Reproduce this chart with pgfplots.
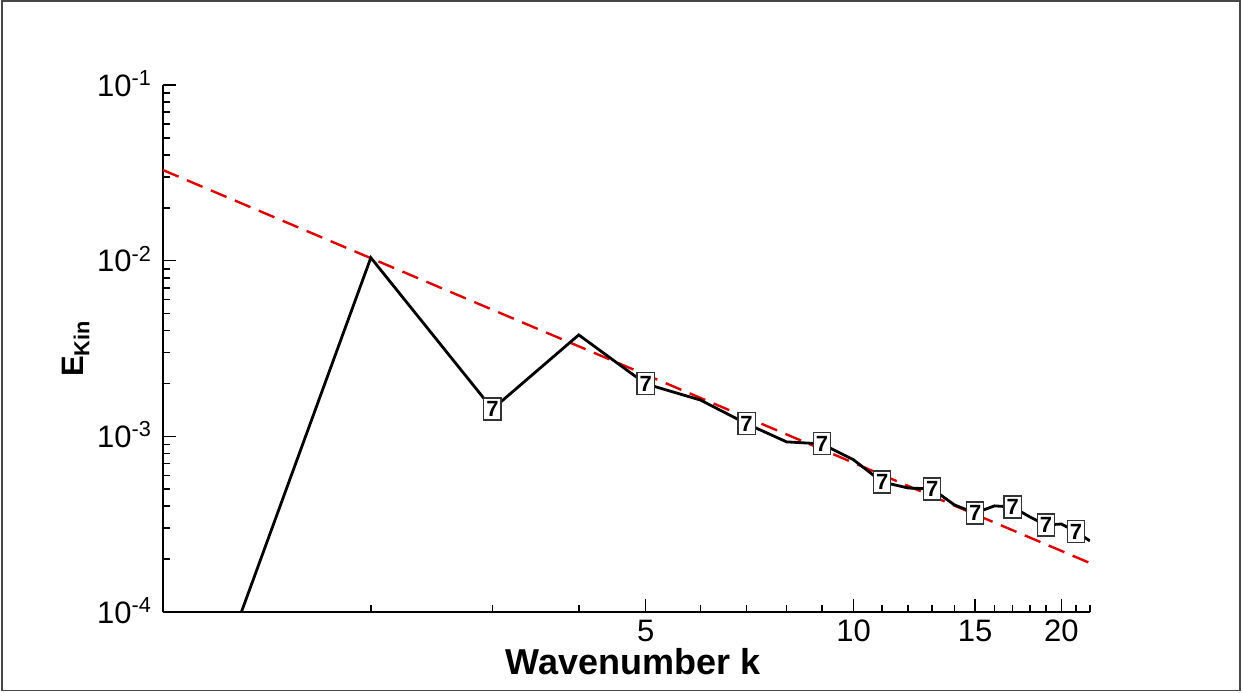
\documentclass[border=0pt]{standalone}
\usepackage{fontspec}
\setmainfont{Liberation Sans}
\usepackage{pgfplots}
\pgfplotsset{compat=1.18}
\definecolor{fitred}{RGB}{222,0,0}
\begin{document}
\begin{tikzpicture}
\useasboundingbox (0pt,0pt) rectangle (621pt,346pt);
\draw[black!72, line width=0.9pt] (1pt,0.8pt) rectangle (620pt,345.4pt);
\begin{axis}[
  at={(81.5pt,40pt)}, anchor=south west,
  scale only axis, width=463.5pt, height=263.5pt,
  xmode=log, ymode=log,
  xmin=1, xmax=22, ymin=1e-4, ymax=1e-1,
  axis lines=left,
  axis line style={-, line width=1.3pt},
  tick align=inside,
  major tick length=6.5pt, minor tick length=3.5pt,
  every tick/.style={black, line width=0.8pt},
  xtick={5,10,15,20}, xticklabels={5,10,15,20},
  minor xtick={2,3,4,6,7,8,9,11,12,13,14,16,17,18,19,21,22},
  ytick={1e-4,1e-3,1e-2,1e-1},
  yticklabels={10\textsuperscript{-4},10\textsuperscript{-3},10\textsuperscript{-2},10\textsuperscript{-1}},
  minor ytick={2e-4,3e-4,4e-4,5e-4,6e-4,7e-4,8e-4,9e-4,
               2e-3,3e-3,4e-3,5e-3,6e-3,7e-3,8e-3,9e-3,
               2e-2,3e-2,4e-2,5e-2,6e-2,7e-2,8e-2,9e-2},
  /pgf/number format/assume math mode=true,
  ticklabel style={font=\fontsize{15.5}{16}\selectfont},
  yticklabel style={anchor=base east, yshift=-5.5pt, xshift=-2pt},
  xticklabel style={yshift=-0.5pt},
  xlabel={Wavenumber k},
  ylabel={E\textsubscript{Kin}},
  xlabel style={font=\fontsize{18}{18}\selectfont\bfseries,
                at={(axis description cs:0.507,-0.094)}, anchor=center},
  ylabel style={font=\fontsize{15.5}{16}\selectfont\bfseries,
                at={(axis description cs:-0.094,0.5)}, anchor=center},
  clip=true,
]
% -5/3 reference slope
\addplot[fitred, line width=1.2pt, dash pattern=on 8.5pt off 4.5pt]
  coordinates {(1,0.0328) (22,1.90e-4)};
% kinetic energy spectrum
\addplot[black, line width=1.4pt]
  coordinates {
  (1,6.0e-6) (2,1.04e-2) (3,1.43e-3) (4,3.78e-3) (5,1.99e-3)
  (6,1.61e-3) (7,1.18e-3) (8,9.3e-4) (9,9.06e-4) (10,7.35e-4)
  (11,5.5e-4) (12,5.08e-4) (13,5.02e-4) (14,4.07e-4) (15,3.66e-4)
  (16,4.02e-4) (17,3.96e-4) (18,3.48e-4) (19,3.13e-4) (20,3.17e-4)
  (21,2.86e-4) (22,2.54e-4)
  };
% symbols on every second wavenumber
\addplot[only marks, mark=text, text mark={7}, text mark as node=true,
  text mark style={draw=black!80, fill=white, line width=0.6pt, solid,
    inner sep=0pt, minimum width=8.6pt, minimum height=11pt,
    font=\fontsize{11}{11}\selectfont\bfseries}]
  coordinates {
  (3,1.43e-3) (5,1.99e-3) (7,1.18e-3) (9,9.06e-4) (11,5.5e-4)
  (13,5.02e-4) (15,3.66e-4) (17,3.96e-4) (19,3.13e-4) (21,2.86e-4)
  };
\end{axis}
\end{tikzpicture}
\end{document}
